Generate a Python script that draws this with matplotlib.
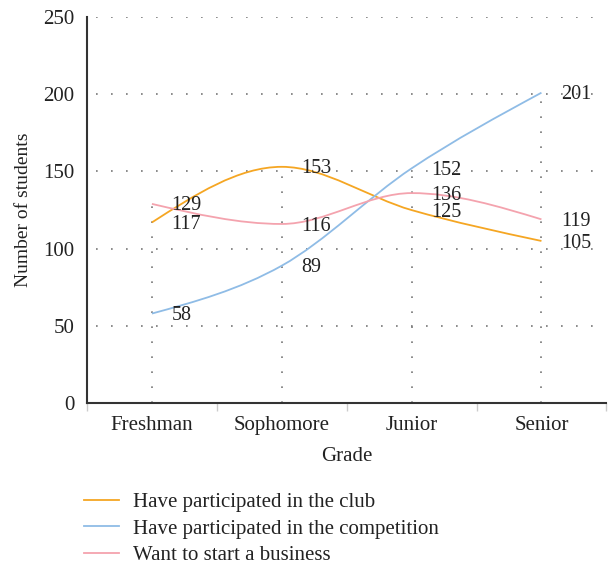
import numpy as np
import matplotlib.pyplot as plt
from matplotlib.path import Path
from matplotlib.patches import PathPatch
from matplotlib.lines import Line2D

grades = ["Freshman", "Sophomore", "Junior", "Senior"]
club = [117, 153, 125, 105]
competition = [58, 89, 152, 201]
business = [129, 116, 136, 119]
series_names = ["Have participated in the club",
                "Have participated in the competition",
                "Want to start a business"]
colors = ["#F5A623", "#8FBCE6", "#F4A3AE"]

plt.rcParams['font.family'] = ['Liberation Serif', 'DejaVu Serif']
FS = 15


def monotone_path(x, y):
    # cubic bezier path with monotone tangents (like d3 curveMonotoneX)
    x = np.asarray(x, float)
    y = np.asarray(y, float)
    h = np.diff(x)
    s = np.diff(y) / h
    n = len(x)
    t = np.zeros(n)
    for i in range(1, n - 1):
        p = (s[i - 1] * h[i] + s[i] * h[i - 1]) / (h[i - 1] + h[i])
        t[i] = (np.sign(s[i - 1]) + np.sign(s[i])) * min(abs(s[i - 1]), abs(s[i]), 0.5 * abs(p))
    t[0] = (3 * s[0] - t[1]) / 2
    t[-1] = (3 * s[-1] - t[-2]) / 2
    verts = [(x[0], y[0])]
    codes = [Path.MOVETO]
    for i in range(n - 1):
        dx = h[i] / 3
        verts += [(x[i] + dx, y[i] + dx * t[i]),
                  (x[i + 1] - dx, y[i + 1] - dx * t[i + 1]),
                  (x[i + 1], y[i + 1])]
        codes += [Path.CURVE4] * 3
    return Path(verts, codes)


fig = plt.figure(figsize=(6.11, 5.67), dpi=100)
ax = fig.add_axes([0.1424, 0.289, 0.85, 0.681])

xpos = np.arange(len(grades)) + 0.5
all_series = [club, competition, business]

# horizontal dotted grid
for v in [50, 100, 150, 200, 250]:
    ax.plot([0.07, 3.97], [v, v], linestyle=(0, (1, 8)), color="#777777", lw=1.2, zorder=1)
# drop lines from max value
tops = np.max(np.array(all_series), axis=0)
ax.vlines(xpos, 0, tops, linestyles=(0, (1, 8)), colors="#777777", lw=1.2, zorder=1)

for vals, col in zip(all_series, colors):
    ax.add_patch(PathPatch(monotone_path(xpos, vals), facecolor="none",
                           edgecolor=col, lw=1.3, zorder=3))
    for xi, v in zip(xpos, vals):
        ax.annotate(str(v), (xi, v), xytext=(14, -1.5), textcoords="offset points",
                    ha="left", va="center", fontsize=14.5, color="#222222", zorder=4)

ax.set_xlim(0, 4)
ax.set_ylim(0, 250)
ax.set_xticks([0, 1, 2, 3, 4])
ax.set_xticklabels([])
ax.set_xticks(xpos, minor=True)
ax.set_xticklabels(grades, minor=True, fontsize=FS, color="#222222")
ax.tick_params(axis="x", which="minor", length=0, pad=9)
ax.tick_params(axis="x", which="major", length=6, color="#cccccc", width=1)
ax.set_yticks([0, 50, 100, 150, 200, 250])
ax.tick_params(axis="y", length=0, labelsize=FS, labelcolor="#222222", pad=9)

for side in ["top", "right"]:
    ax.spines[side].set_visible(False)
for side in ["left", "bottom"]:
    ax.spines[side].set_color("#333333")
    ax.spines[side].set_linewidth(1.5)

ax.set_xlabel("Grade", fontsize=FS, color="#222222", labelpad=9)
ax.set_ylabel("Number of students", fontsize=14, color="#222222", labelpad=8)

handles = [Line2D([0], [0], color=c, lw=1.3) for c in colors]
fig.legend(handles, series_names, loc="upper left", bbox_to_anchor=(0.138, 0.131),
           frameon=False, fontsize=FS, handlelength=1.65, handletextpad=0.67,
           labelspacing=0.32, borderpad=0, borderaxespad=0, labelcolor="#222222")

fig.savefig("out.png", dpi=100)
